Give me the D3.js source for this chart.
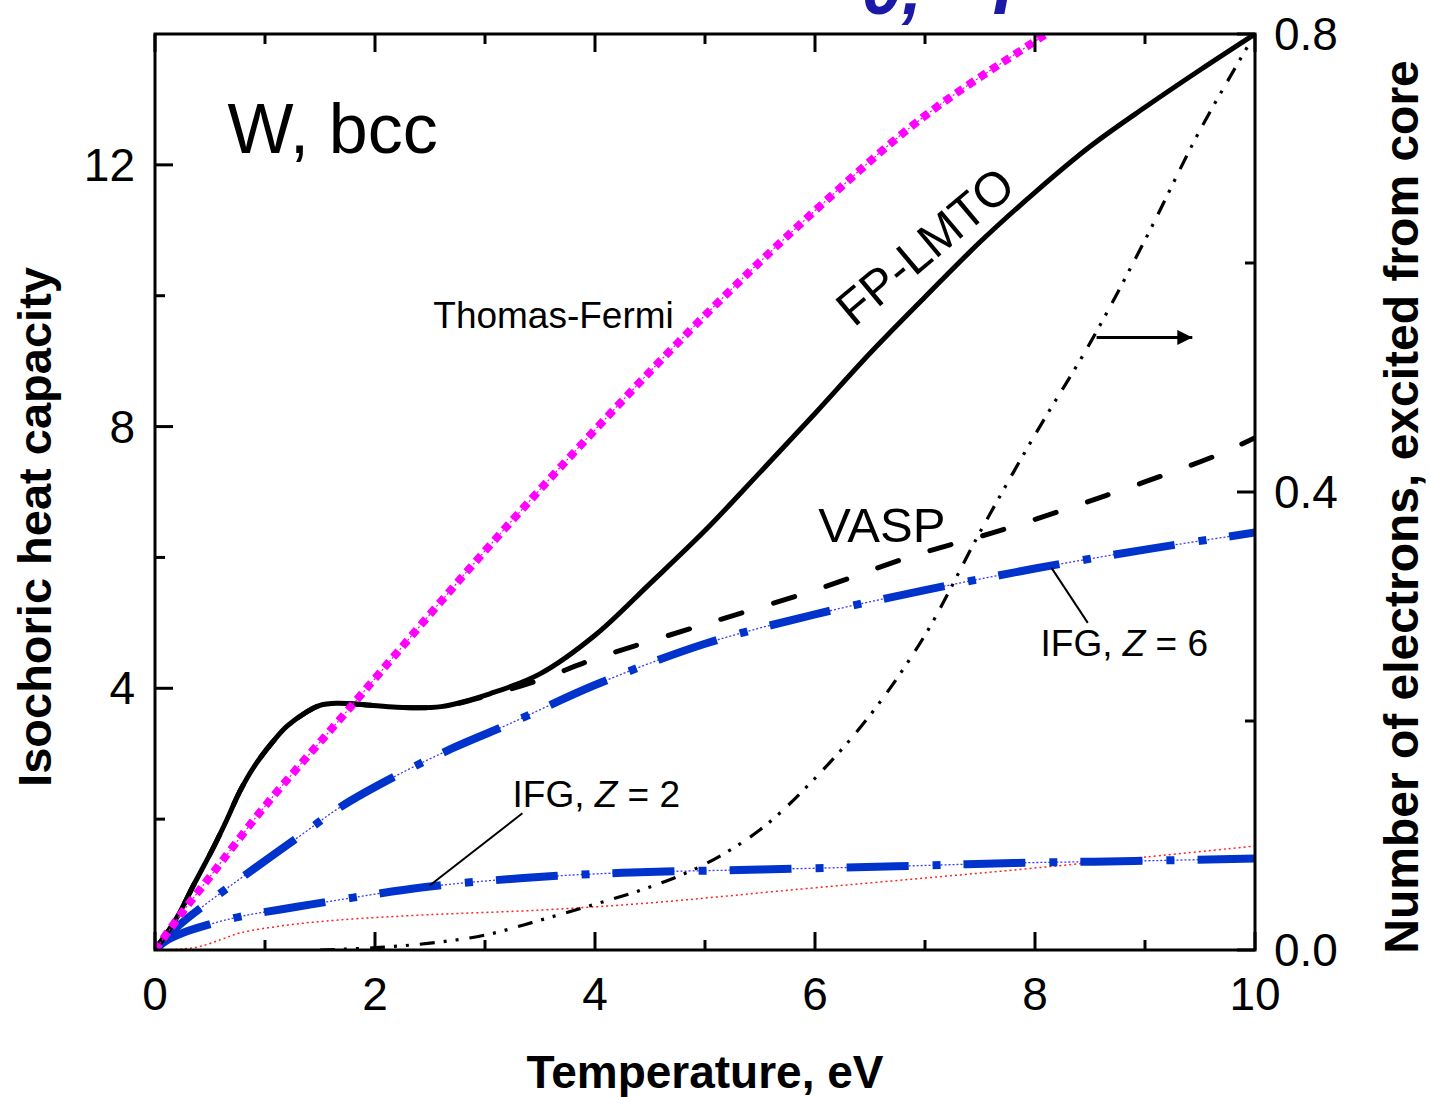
<!DOCTYPE html>
<html>
<head>
<meta charset="utf-8">
<script src="https://cdn.jsdelivr.net/npm/d3@7"></script>
<style>
  body { margin:0; background:#fff; }
  text { font-family: Arial, "Liberation Sans", sans-serif; }
</style>
</head>
<body>
<div id="chart-area"></div>
<script>
const margin = { left:155, right:176, top:34, bottom:147 };
const width = 1431 - margin.left - margin.right,
    height = 1097 - margin.top - margin.bottom;

// Thomas-Fermi
const tfT = [0, 0.25, 0.5, 1, 1.75, 3, 4, 5, 6, 7, 8.1, 8.5];
const tfC = [0, 0.58, 1.12, 2.2, 3.66, 6.1, 7.95, 9.7, 11.3, 12.75, 14.0, 14.45];
// FP-LMTO
const fpT = [0, 0.2, 0.35, 0.52, 0.65, 0.77, 0.9, 1.07, 1.2, 1.38, 1.5, 1.65, 1.9, 2.2, 2.6, 3.05, 3.5, 4, 4.5, 5, 5.5, 6, 6.5, 7, 7.5, 8, 8.5, 9, 9.5, 10];
const fpC = [0, 0.5, 0.99, 1.53, 1.98, 2.42, 2.8, 3.18, 3.42, 3.64, 3.74, 3.77, 3.75, 3.71, 3.72, 3.92, 4.22, 4.81, 5.6, 6.41, 7.3, 8.2, 9.12, 9.98, 10.82, 11.58, 12.28, 12.88, 13.45, 14.0];
// VASP
const vaT = [0, 0.2, 0.35, 0.52, 0.65, 0.77, 0.9, 1.07, 1.2, 1.38, 1.5, 1.65, 1.9, 2.2, 2.6, 3.05, 3.5, 4, 5, 6, 6.9, 7.68, 8.65, 9.65, 10];
const vaC = [0, 0.5, 0.99, 1.53, 1.98, 2.42, 2.8, 3.18, 3.42, 3.64, 3.74, 3.77, 3.75, 3.71, 3.72, 3.9, 4.13, 4.45, 4.98, 5.5, 6.03, 6.41, 6.95, 7.56, 7.83];
// IFG, Z = 6
const z6T = [0, 0.2, 0.5, 0.84, 1.29, 1.7, 2.2, 2.7, 3.2, 4, 5, 6, 7, 8, 9, 10];
const z6C = [0, 0.35, 0.75, 1.17, 1.71, 2.2, 2.67, 3.08, 3.44, 4.05, 4.68, 5.13, 5.5, 5.83, 6.12, 6.38];
// IFG, Z = 2
const z2T = [0, 0.1, 0.25, 0.47, 0.8, 1.29, 1.8, 2.44, 3.35, 4.25, 5.5, 6.74, 7.8, 8.9, 10];
const z2C = [0, 0.14, 0.26, 0.38, 0.52, 0.66, 0.8, 0.96, 1.1, 1.18, 1.23, 1.28, 1.33, 1.36, 1.40];
// thin red dotted curve
const rdT = [0, 0.2, 0.4, 0.6, 0.77, 1.2, 1.68, 2.5, 3.5, 4.5, 5.86, 7, 7.98, 9, 10];
const rdC = [0, 0.01, 0.05, 0.16, 0.26, 0.38, 0.46, 0.54, 0.61, 0.72, 0.93, 1.1, 1.25, 1.42, 1.59];
// electrons excited from core (right axis)
const elT = [1.5, 2, 2.5, 3, 3.5, 4, 4.5, 5, 5.5, 6, 6.5, 7, 7.5, 8, 8.5, 9, 9.5, 10];
const elN = [0, 0.002, 0.006, 0.013, 0.026, 0.04, 0.055, 0.075, 0.105, 0.15, 0.205, 0.275, 0.365, 0.45, 0.53, 0.62, 0.716, 0.8];

const xTicks = [0, 2, 4, 6, 8, 10];
const yTicks = [4, 8, 12];
const y2Ticks = [0.0, 0.4, 0.8];

var svg = d3.select("#chart-area")
    .append("svg")
    .attr("width", width + margin.left + margin.right)
    .attr("height", height + margin.top + margin.bottom);

const g = svg.append("g")
    .attr("transform", "translate(" + margin.left + ", " + margin.top + ")");

const x = d3.scaleLinear().domain([0, 10]).range([0, width]);
const y = d3.scaleLinear().domain([0, 14]).range([height, 0]);
const y2 = d3.scaleLinear().domain([0, 0.8]).range([height, 0]);

svg.append("defs").append("clipPath").attr("id", "clip")
    .append("rect").attr("width", width).attr("height", height);
svg.select("defs").append("marker")
    .attr("id", "arrow").attr("viewBox", "0 0 10 10")
    .attr("refX", 10).attr("refY", 5)
    .attr("markerWidth", 26).attr("markerHeight", 15)
    .attr("markerUnits", "userSpaceOnUse")
    .attr("orient", "auto")
    .append("path").attr("d", "M0,0 L10,5 L0,10 Z").attr("fill", "#000");

// cut-off blue title at the very top (the reference shows only its lower edge)
svg.append("text")
    .attr("x", 862).attr("y", 14)
    .attr("font-size", "72px").attr("font-weight", "bold").attr("font-style", "italic")
    .attr("fill", "#1a1aa6")
    .text("0,");
svg.append("text")
    .attr("x", 981).attr("y", 14)
    .attr("font-size", "72px").attr("font-weight", "bold").attr("font-style", "italic")
    .attr("fill", "#1a1aa6")
    .text("T");

const plot = g.append("g").attr("clip-path", "url(#clip)");

function drawLine(xs, ys, scaleY, style) {
    const pts = xs.map((t, i) => [t, ys[i]]);
    const line = d3.line()
        .x(d => x(d[0]))
        .y(d => scaleY(d[1]))
        .curve(d3.curveCatmullRom.alpha(0.5));
    const p = plot.append("path")
        .datum(pts)
        .attr("d", line)
        .attr("fill", "none")
        .attr("stroke", style.color)
        .attr("stroke-width", style.w)
        .attr("stroke-linecap", style.cap || "butt")
        .attr("stroke-linejoin", "round");
    if (style.dash) p.attr("stroke-dasharray", style.dash);
    return p;
}

// red thin dotted
drawLine(rdT, rdC, y, { color:"#ff2020", w:1.5, dash:"2,3" });

// IFG curves: thin dotted underlay + thick dash-dot
drawLine(z2T, z2C, y, { color:"#3a3aff", w:1.3, dash:"2,2" });
drawLine(z2T, z2C, y, { color:"#0033cc", w:8, dash:"62,24,8,23" });
drawLine(z6T, z6C, y, { color:"#3a3aff", w:1.3, dash:"2,2" });
drawLine(z6T, z6C, y, { color:"#0033cc", w:8, dash:"62,24,8,23" });

// electrons from core, dash-dot-dot on right axis
drawLine(elT, elN, y2, { color:"#000", w:3.2, dash:"15,9,3,9,3,11" });

// VASP dashed
drawLine(vaT, vaC, y, { color:"#000", w:5, dash:"22,33", cap:"round" });

// FP-LMTO solid
drawLine(fpT, fpC, y, { color:"#000", w:5 });

// Thomas-Fermi: thin line + square dots
drawLine(tfT, tfC, y, { color:"#ff00ff", w:1.2, dash:"2,2" });
drawLine(tfT, tfC, y, { color:"#ff00ff", w:8, dash:"8,6" });

// frame
g.append("rect")
    .attr("width", width).attr("height", height)
    .attr("fill", "none").attr("stroke", "#000").attr("stroke-width", 3);

// ticks (inward)
const minorX = d3.range(1, 10, 2);
const minorY = [2, 6, 10];
const minorY2 = [0.2, 0.6];
const major = 18, minor = 10;

function tickLines(vals, len, fn) {
    vals.forEach(v => {
        const c = fn(v, len);
        g.append("line").attr("x1", c[0]).attr("y1", c[1]).attr("x2", c[2]).attr("y2", c[3])
            .attr("stroke", "#000").attr("stroke-width", 3);
    });
}
tickLines(xTicks, major, (v, l) => [x(v), height, x(v), height - l]);
tickLines(minorX, minor, (v, l) => [x(v), height, x(v), height - l]);
tickLines(xTicks, major, (v, l) => [x(v), 0, x(v), l]);
tickLines(minorX, minor, (v, l) => [x(v), 0, x(v), l]);
tickLines(yTicks, major, (v, l) => [0, y(v), l, y(v)]);
tickLines(minorY, minor, (v, l) => [0, y(v), l, y(v)]);
tickLines(y2Ticks, major, (v, l) => [width, y2(v), width - l, y2(v)]);
tickLines(minorY2, minor, (v, l) => [width, y2(v), width - l, y2(v)]);

// tick labels
g.selectAll(".xlab").data(xTicks).enter().append("text")
    .attr("x", d => x(d)).attr("y", height + 60)
    .attr("text-anchor", "middle").attr("font-size", "46px")
    .text(d => d);
g.selectAll(".ylab").data(yTicks).enter().append("text")
    .attr("x", -20).attr("y", d => y(d) + 16)
    .attr("text-anchor", "end").attr("font-size", "46px")
    .text(d => d);
g.selectAll(".y2lab").data(y2Ticks).enter().append("text")
    .attr("x", width + 19).attr("y", d => y2(d) + 16)
    .attr("text-anchor", "start").attr("font-size", "46px")
    .text(d => d3.format(".1f")(d));

// axis titles
g.append("text")
    .attr("x", width / 2).attr("y", height + 138)
    .attr("text-anchor", "middle").attr("font-size", "46px").attr("font-weight", "bold")
    .text("Temperature, eV");
g.append("text")
    .attr("transform", "translate(" + (-104) + "," + (y(0) - 423) + ") rotate(-90)")
    .attr("text-anchor", "middle").attr("font-size", "47px").attr("font-weight", "bold")
    .text("Isochoric heat capacity");
g.append("text")
    .attr("transform", "translate(" + (width + 163) + "," + 473 + ") rotate(-90)")
    .attr("text-anchor", "middle").attr("font-size", "48px").attr("font-weight", "bold")
    .text("Number of electrons, excited from core");

// annotations
g.append("text").attr("x", x(0.66)).attr("y", y(12.18))
    .attr("font-size", "70px").text("W, bcc");
g.append("text").attr("x", x(2.53)).attr("y", y(9.51))
    .attr("font-size", "37px").text("Thomas-Fermi");
g.append("text").attr("x", x(6.03)).attr("y", y(6.24))
    .attr("font-size", "49px").text("VASP");
g.append("text")
    .attr("transform", "translate(" + x(7.1) + "," + y(10.56) + ") rotate(-40)")
    .attr("text-anchor", "middle").attr("font-size", "49px").text("FP-LMTO");

const ifg6 = g.append("text").attr("x", x(8.05)).attr("y", y(4.5)).attr("font-size", "37px");
ifg6.append("tspan").text("IFG, ");
ifg6.append("tspan").attr("font-style", "italic").text("Z");
ifg6.append("tspan").text(" = 6");
const ifg2 = g.append("text").attr("x", x(3.25)).attr("y", y(2.18)).attr("font-size", "37px");
ifg2.append("tspan").text("IFG, ");
ifg2.append("tspan").attr("font-style", "italic").text("Z");
ifg2.append("tspan").text(" = 2");

// leader lines
g.append("line")
    .attr("x1", x(8.48)).attr("y1", y(5.0)).attr("x2", x(8.15)).attr("y2", y(5.84))
    .attr("stroke", "#000").attr("stroke-width", 2);
g.append("line")
    .attr("x1", x(3.34)).attr("y1", y(2.09)).attr("x2", x(2.5)).attr("y2", y(0.99))
    .attr("stroke", "#000").attr("stroke-width", 2);

// arrow pointing to right axis
g.append("line")
    .attr("x1", x(8.56)).attr("y1", y2(0.535)).attr("x2", x(9.43)).attr("y2", y2(0.535))
    .attr("stroke", "#000").attr("stroke-width", 3)
    .attr("marker-end", "url(#arrow)");
</script>
</body>
</html>
